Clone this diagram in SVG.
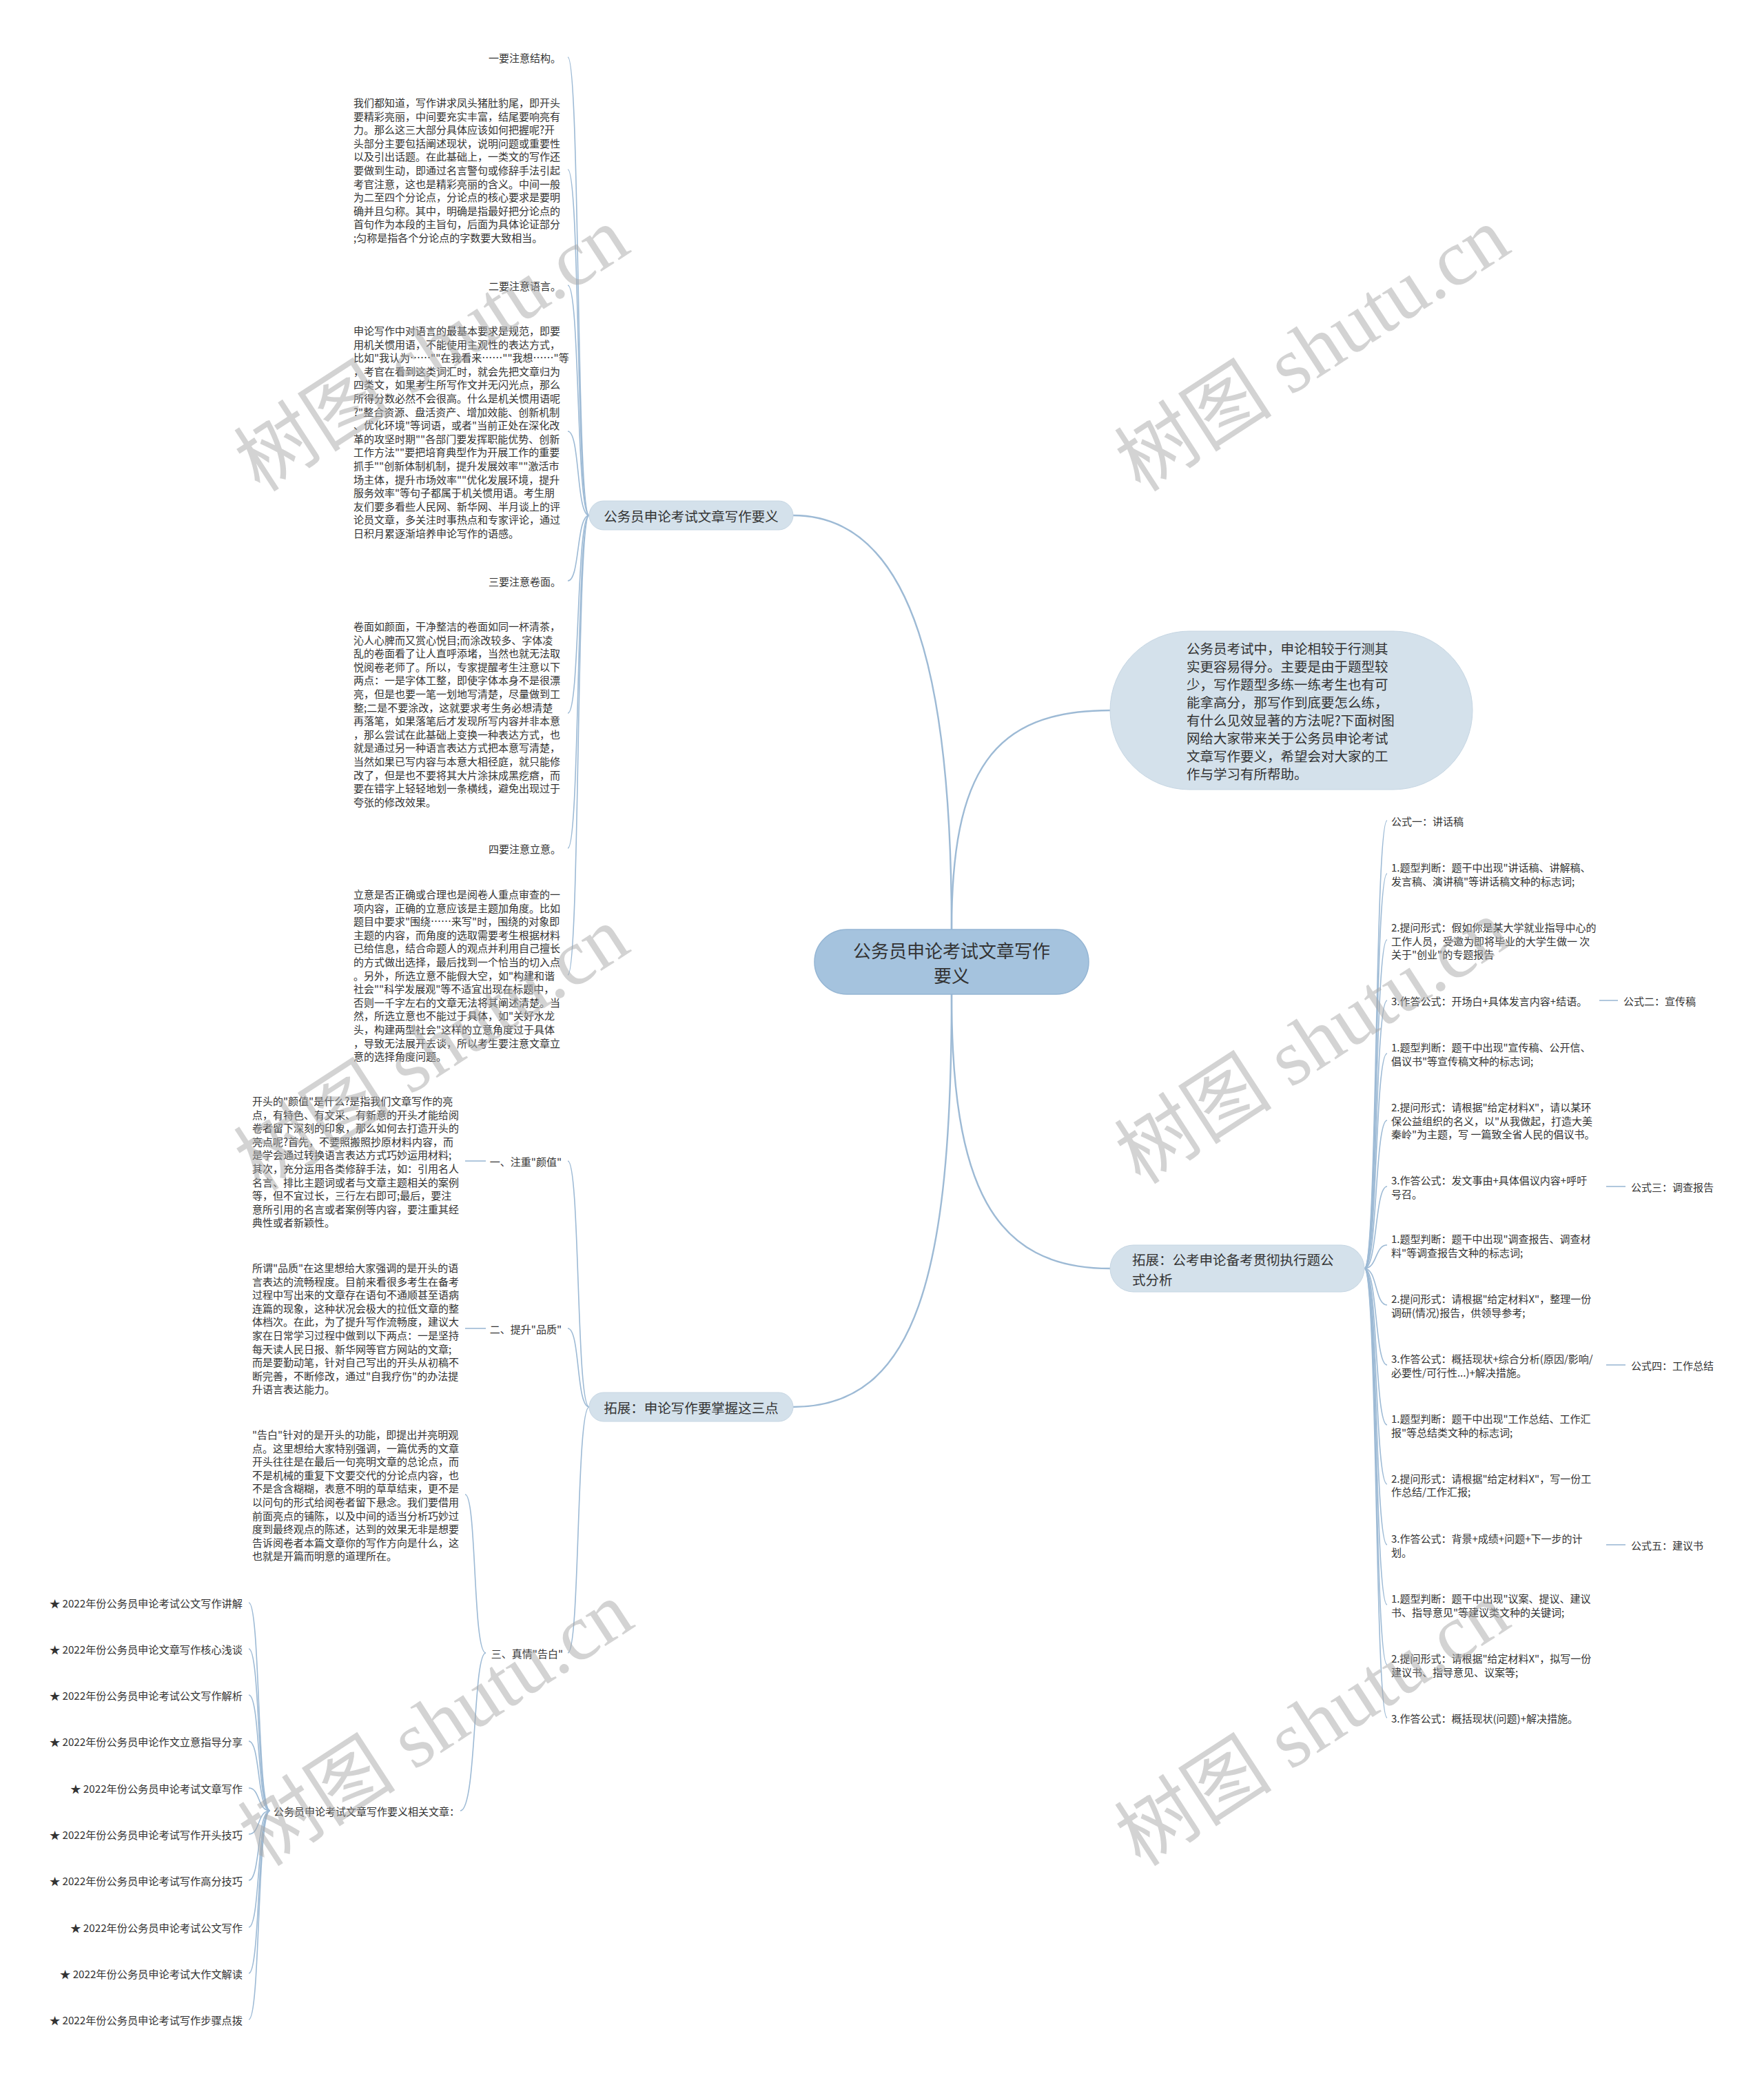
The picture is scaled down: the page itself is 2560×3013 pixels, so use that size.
<svg xmlns="http://www.w3.org/2000/svg" width="2560" height="3013" viewBox="0 0 2560 3013">
<style>
text{font-family:'Noto Sans CJK SC','Noto Sans',sans-serif;fill:#333;dominant-baseline:central}
.s15{font-size:15px}
.s16{font-size:15.2px}
.s20{font-size:19.5px}
.s26{font-size:26px}
.end{text-anchor:end}
.mid{text-anchor:middle}
.main{fill:#a5c3de;stroke:#94b5d3;stroke-width:1.5}
.sub{fill:#d4e1eb;stroke:#c6d6e3;stroke-width:1}
.edge{fill:none;stroke:#9dbad5;stroke-width:1.6}
.edge2{fill:none;stroke:#9dbad5;stroke-width:2.4}
.wm{font-family:'Liberation Serif','Noto Sans CJK SC',serif;font-size:115px;fill:#a8a8a8;opacity:0.5;dominant-baseline:auto}
</style>
<rect width="2560" height="3013" fill="#ffffff"/>
<g id="connectors">
<path class="edge2" d="M1381,1349 C1381,1000 1330,748 1151,748"/>
<path class="edge2" d="M1381,1349 C1381,1120 1440,1031 1611,1031"/>
<path class="edge2" d="M1381,1443 C1381,1850 1330,2042 1151,2042"/>
<path class="edge2" d="M1381,1443 C1381,1720 1440,1841 1611,1841"/>
<path class="edge" d="M855,748 C836,748 842,83 824,83"/>
<path class="edge" d="M855,748 C836,748 842,246 824,246"/>
<path class="edge" d="M855,748 C836,748 842,414 824,414"/>
<path class="edge" d="M855,748 C836,748 842,626 824,626"/>
<path class="edge" d="M855,748 C836,748 842,843 824,843"/>
<path class="edge" d="M855,748 C836,748 842,1035 824,1035"/>
<path class="edge" d="M855,748 C836,748 842,1231 824,1231"/>
<path class="edge" d="M855,748 C836,748 842,1415 824,1415"/>
<path class="edge" d="M855,2042 C836,2042 842,1685 824,1685"/>
<path class="edge" d="M855,2042 C836,2042 842,1928 824,1928"/>
<path class="edge" d="M855,2042 C836,2042 842,2399 824,2399"/>
<path class="edge" d="M705,1685 L675,1685"/>
<path class="edge" d="M705,1928 L675,1928"/>
<path class="edge" d="M705,2399 C686,2399 692,2169 675,2169"/>
<path class="edge" d="M705,2399 C686,2399 692,2628 668,2628"/>
<path class="edge" d="M392,2628 C373,2628 378,2326 361,2326"/>
<path class="edge" d="M392,2628 C373,2628 378,2393 361,2393"/>
<path class="edge" d="M392,2628 C373,2628 378,2460 361,2460"/>
<path class="edge" d="M392,2628 C373,2628 378,2527 361,2527"/>
<path class="edge" d="M392,2628 C373,2628 378,2595 361,2595"/>
<path class="edge" d="M392,2628 C373,2628 378,2662 361,2662"/>
<path class="edge" d="M392,2628 C373,2628 378,2729 361,2729"/>
<path class="edge" d="M392,2628 C373,2628 378,2797 361,2797"/>
<path class="edge" d="M392,2628 C373,2628 378,2864 361,2864"/>
<path class="edge" d="M392,2628 C373,2628 378,2931 361,2931"/>
<path class="edge" d="M1980,1841 C1999,1841 1995,1191 2013,1191"/>
<path class="edge" d="M1980,1841 C1999,1841 1995,1268 2013,1268"/>
<path class="edge" d="M1980,1841 C1999,1841 1995,1364 2013,1364"/>
<path class="edge" d="M1980,1841 C1999,1841 1995,1452 2013,1452"/>
<path class="edge" d="M1980,1841 C1999,1841 1995,1529 2013,1529"/>
<path class="edge" d="M1980,1841 C1999,1841 1995,1626 2013,1626"/>
<path class="edge" d="M1980,1841 C1999,1841 1995,1722 2013,1722"/>
<path class="edge" d="M1980,1841 C1999,1841 1995,1807 2013,1807"/>
<path class="edge" d="M1980,1841 C1999,1841 1995,1894 2013,1894"/>
<path class="edge" d="M1980,1841 C1999,1841 1995,1981 2013,1981"/>
<path class="edge" d="M1980,1841 C1999,1841 1995,2068 2013,2068"/>
<path class="edge" d="M1980,1841 C1999,1841 1995,2154 2013,2154"/>
<path class="edge" d="M1980,1841 C1999,1841 1995,2242 2013,2242"/>
<path class="edge" d="M1980,1841 C1999,1841 1995,2329 2013,2329"/>
<path class="edge" d="M1980,1841 C1999,1841 1995,2416 2013,2416"/>
<path class="edge" d="M1980,1841 C1999,1841 1995,2493 2013,2493"/>
<path class="edge" d="M2321,1452 L2348,1452"/>
<path class="edge" d="M2331,1722 L2359,1722"/>
<path class="edge" d="M2331,1981 L2359,1981"/>
<path class="edge" d="M2331,2242 L2359,2242"/>
</g>
<g id="central">
<rect class="main" x="1182" y="1349" width="398" height="94" rx="47"/>
<text class="s26 mid"><tspan x="1381" y="1378">公务员申论考试文章写作</tspan><tspan x="1381" y="1414">要义</tspan></text>
</g>
<g id="n-l1">
<rect class="sub" x="855" y="727" width="296" height="42" rx="21"/>
<text class="s20 mid" x="1003" y="748">公务员申论考试文章写作要义</text>
</g>
<g id="n-l1-t1"><text class="s15 end" x="814" y="83">一要注意结构。</text></g>
<g id="n-l1-p1"><text class="s15">
<tspan x="513" y="148">我们都知道，写作讲求凤头猪肚豹尾，即开头</tspan>
<tspan x="513" y="167.6">要精彩亮丽，中间要充实丰富，结尾要响亮有</tspan>
<tspan x="513" y="187.2">力。那么这三大部分具体应该如何把握呢?开</tspan>
<tspan x="513" y="206.8">头部分主要包括阐述现状，说明问题或重要性</tspan>
<tspan x="513" y="226.4">以及引出话题。在此基础上，一类文的写作还</tspan>
<tspan x="513" y="246">要做到生动，即通过名言警句或修辞手法引起</tspan>
<tspan x="513" y="265.6">考官注意，这也是精彩亮丽的含义。中间一般</tspan>
<tspan x="513" y="285.2">为二至四个分论点，分论点的核心要求是要明</tspan>
<tspan x="513" y="304.8">确并且匀称。其中，明确是指最好把分论点的</tspan>
<tspan x="513" y="324.4">首句作为本段的主旨句，后面为具体论证部分</tspan>
<tspan x="513" y="344">;匀称是指各个分论点的字数要大致相当。</tspan>
</text></g>
<g id="n-l1-t2"><text class="s15 end" x="814" y="414">二要注意语言。</text></g>
<g id="n-l1-p2"><text class="s15">
<tspan x="513" y="479">申论写作中对语言的最基本要求是规范，即要</tspan>
<tspan x="513" y="498.6">用机关惯用语，不能使用主观性的表达方式，</tspan>
<tspan x="513" y="518.2">比如"我认为……""在我看来……""我想……"等</tspan>
<tspan x="513" y="537.8">，考官在看到这类词汇时，就会先把文章归为</tspan>
<tspan x="513" y="557.4">四类文，如果考生所写作文并无闪光点，那么</tspan>
<tspan x="513" y="577">所得分数必然不会很高。什么是机关惯用语呢</tspan>
<tspan x="513" y="596.6">?"整合资源、盘活资产、增加效能、创新机制</tspan>
<tspan x="513" y="616.2">、优化环境"等词语，或者"当前正处在深化改</tspan>
<tspan x="513" y="635.8">革的攻坚时期""各部门要发挥职能优势、创新</tspan>
<tspan x="513" y="655.4">工作方法""要把培育典型作为开展工作的重要</tspan>
<tspan x="513" y="675">抓手""创新体制机制，提升发展效率""激活市</tspan>
<tspan x="513" y="694.6">场主体，提升市场效率""优化发展环境，提升</tspan>
<tspan x="513" y="714.2">服务效率"等句子都属于机关惯用语。考生朋</tspan>
<tspan x="513" y="733.8">友们要多看些人民网、新华网、半月谈上的评</tspan>
<tspan x="513" y="753.4">论员文章，多关注时事热点和专家评论，通过</tspan>
<tspan x="513" y="773">日积月累逐渐培养申论写作的语感。</tspan>
</text></g>
<g id="n-l1-t3"><text class="s15 end" x="814" y="843">三要注意卷面。</text></g>
<g id="n-l1-p3"><text class="s15">
<tspan x="513" y="908">卷面如颜面，干净整洁的卷面如同一杯清茶，</tspan>
<tspan x="513" y="927.6">沁人心脾而又赏心悦目;而涂改较多、字体凌</tspan>
<tspan x="513" y="947.2">乱的卷面看了让人直呼添堵，当然也就无法取</tspan>
<tspan x="513" y="966.8">悦阅卷老师了。所以，专家提醒考生注意以下</tspan>
<tspan x="513" y="986.4">两点：一是字体工整，即使字体本身不是很漂</tspan>
<tspan x="513" y="1006">亮，但是也要一笔一划地写清楚，尽量做到工</tspan>
<tspan x="513" y="1025.6">整;二是不要涂改，这就要求考生务必想清楚</tspan>
<tspan x="513" y="1045.2">再落笔，如果落笔后才发现所写内容并非本意</tspan>
<tspan x="513" y="1064.8">，那么尝试在此基础上变换一种表达方式，也</tspan>
<tspan x="513" y="1084.4">就是通过另一种语言表达方式把本意写清楚，</tspan>
<tspan x="513" y="1104">当然如果已写内容与本意大相径庭，就只能修</tspan>
<tspan x="513" y="1123.6">改了，但是也不要将其大片涂抹成黑疙瘩，而</tspan>
<tspan x="513" y="1143.2">要在错字上轻轻地划一条横线，避免出现过于</tspan>
<tspan x="513" y="1162.8">夸张的修改效果。</tspan>
</text></g>
<g id="n-l1-t4"><text class="s15 end" x="814" y="1231">四要注意立意。</text></g>
<g id="n-l1-p4"><text class="s15">
<tspan x="513" y="1297">立意是否正确或合理也是阅卷人重点审查的一</tspan>
<tspan x="513" y="1316.6">项内容，正确的立意应该是主题加角度。比如</tspan>
<tspan x="513" y="1336.2">题目中要求"围绕……来写"时，围绕的对象即</tspan>
<tspan x="513" y="1355.8">主题的内容，而角度的选取需要考生根据材料</tspan>
<tspan x="513" y="1375.4">已给信息，结合命题人的观点并利用自己擅长</tspan>
<tspan x="513" y="1395">的方式做出选择，最后找到一个恰当的切入点</tspan>
<tspan x="513" y="1414.6">。另外，所选立意不能假大空，如"构建和谐</tspan>
<tspan x="513" y="1434.2">社会""科学发展观"等不适宜出现在标题中，</tspan>
<tspan x="513" y="1453.8">否则一千字左右的文章无法将其阐述清楚。当</tspan>
<tspan x="513" y="1473.4">然，所选立意也不能过于具体，如"关好水龙</tspan>
<tspan x="513" y="1493">头，构建两型社会"这样的立意角度过于具体</tspan>
<tspan x="513" y="1512.6">，导致无法展开去谈，所以考生要注意文章立</tspan>
<tspan x="513" y="1532.2">意的选择角度问题。</tspan>
</text></g>
<g id="n-l2">
<rect class="sub" x="855" y="2021" width="296" height="42" rx="21"/>
<text class="s20 mid" x="1003" y="2042">拓展：申论写作要掌握这三点</text>
</g>
<g id="n-l2-t1"><text class="s15 end" x="815" y="1685">一、注重"颜值"</text></g>
<g id="n-l2-p1"><text class="s15">
<tspan x="366" y="1597">开头的"颜值"是什么?是指我们文章写作的亮</tspan>
<tspan x="366" y="1616.6">点，有特色、有文采、有新意的开头才能给阅</tspan>
<tspan x="366" y="1636.2">卷者留下深刻的印象，那么如何去打造开头的</tspan>
<tspan x="366" y="1655.8">亮点呢?首先，不要照搬照抄原材料内容，而</tspan>
<tspan x="366" y="1675.4">是学会通过转换语言表达方式巧妙运用材料;</tspan>
<tspan x="366" y="1695">其次，充分运用各类修辞手法，如：引用名人</tspan>
<tspan x="366" y="1714.6">名言、排比主题词或者与文章主题相关的案例</tspan>
<tspan x="366" y="1734.2">等，但不宜过长，三行左右即可;最后，要注</tspan>
<tspan x="366" y="1753.8">意所引用的名言或者案例等内容，要注重其经</tspan>
<tspan x="366" y="1773.4">典性或者新颖性。</tspan>
</text></g>
<g id="n-l2-t2"><text class="s15 end" x="815" y="1928">二、提升"品质"</text></g>
<g id="n-l2-p2"><text class="s15">
<tspan x="366" y="1839">所谓"品质"在这里想给大家强调的是开头的语</tspan>
<tspan x="366" y="1858.6">言表达的流畅程度。目前来看很多考生在备考</tspan>
<tspan x="366" y="1878.2">过程中写出来的文章存在语句不通顺甚至语病</tspan>
<tspan x="366" y="1897.8">连篇的现象，这种状况会极大的拉低文章的整</tspan>
<tspan x="366" y="1917.4">体档次。在此，为了提升写作流畅度，建议大</tspan>
<tspan x="366" y="1937">家在日常学习过程中做到以下两点：一是坚持</tspan>
<tspan x="366" y="1956.6">每天读人民日报、新华网等官方网站的文章;</tspan>
<tspan x="366" y="1976.2">而是要勤动笔，针对自己写出的开头从初稿不</tspan>
<tspan x="366" y="1995.8">断完善，不断修改，通过"自我疗伤"的办法提</tspan>
<tspan x="366" y="2015.4">升语言表达能力。</tspan>
</text></g>
<g id="n-l2-t3"><text class="s15 end" x="817" y="2399">三、真情"告白"</text></g>
<g id="n-l2-p3"><text class="s15">
<tspan x="366" y="2081">"告白"针对的是开头的功能，即提出并亮明观</tspan>
<tspan x="366" y="2100.6">点。这里想给大家特别强调，一篇优秀的文章</tspan>
<tspan x="366" y="2120.2">开头往往是在最后一句亮明文章的总论点，而</tspan>
<tspan x="366" y="2139.8">不是机械的重复下文要交代的分论点内容，也</tspan>
<tspan x="366" y="2159.4">不是含含糊糊，表意不明的草草结束，更不是</tspan>
<tspan x="366" y="2179">以问句的形式给阅卷者留下悬念。我们要借用</tspan>
<tspan x="366" y="2198.6">前面亮点的铺陈，以及中间的适当分析巧妙过</tspan>
<tspan x="366" y="2218.2">度到最终观点的陈述，达到的效果无非是想要</tspan>
<tspan x="366" y="2237.8">告诉阅卷者本篇文章你的写作方向是什么，这</tspan>
<tspan x="366" y="2257.4">也就是开篇而明意的道理所在。</tspan>
</text></g>
<g id="n-related"><text class="s15" x="397" y="2628">公务员申论考试文章写作要义相关文章：</text></g>
<g id="n-star1"><text class="s16 end" x="352" y="2326">★ 2022年份公务员申论考试公文写作讲解</text></g>
<g id="n-star2"><text class="s16 end" x="352" y="2393">★ 2022年份公务员申论文章写作核心浅谈</text></g>
<g id="n-star3"><text class="s16 end" x="352" y="2460">★ 2022年份公务员申论考试公文写作解析</text></g>
<g id="n-star4"><text class="s16 end" x="352" y="2527">★ 2022年份公务员申论作文立意指导分享</text></g>
<g id="n-star5"><text class="s16 end" x="352" y="2595">★ 2022年份公务员申论考试文章写作</text></g>
<g id="n-star6"><text class="s16 end" x="352" y="2662">★ 2022年份公务员申论考试写作开头技巧</text></g>
<g id="n-star7"><text class="s16 end" x="352" y="2729">★ 2022年份公务员申论考试写作高分技巧</text></g>
<g id="n-star8"><text class="s16 end" x="352" y="2797">★ 2022年份公务员申论考试公文写作</text></g>
<g id="n-star9"><text class="s16 end" x="352" y="2864">★ 2022年份公务员申论考试大作文解读</text></g>
<g id="n-star10"><text class="s16 end" x="352" y="2931">★ 2022年份公务员申论考试写作步骤点拨</text></g>
<g id="n-r1">
<rect class="sub" x="1611" y="916" width="526" height="230" rx="115"/>
<text class="s20">
<tspan x="1722" y="940">公务员考试中，申论相较于行测其</tspan>
<tspan x="1722" y="966">实更容易得分。主要是由于题型较</tspan>
<tspan x="1722" y="992">少，写作题型多练一练考生也有可</tspan>
<tspan x="1722" y="1018">能拿高分，那写作到底要怎么练，</tspan>
<tspan x="1722" y="1044">有什么见效显著的方法呢?下面树图</tspan>
<tspan x="1722" y="1070">网给大家带来关于公务员申论考试</tspan>
<tspan x="1722" y="1096">文章写作要义，希望会对大家的工</tspan>
<tspan x="1722" y="1122">作与学习有所帮助。</tspan>
</text>
</g>
<g id="n-r2">
<rect class="sub" x="1611" y="1807" width="369" height="68" rx="34"/>
<text class="s20"><tspan x="1643" y="1827">拓展：公考申论备考贯彻执行题公</tspan><tspan x="1643" y="1856">式分析</tspan></text>
</g>
<g id="n-a0"><text class="s15" x="2019" y="1191">公式一：讲话稿</text></g>
<g id="n-a1"><text class="s15"><tspan x="2019" y="1258">1.题型判断：题干中出现"讲话稿、讲解稿、</tspan><tspan x="2019" y="1278">发言稿、演讲稿"等讲话稿文种的标志词;</tspan></text></g>
<g id="n-a2"><text class="s15"><tspan x="2019" y="1345">2.提问形式：假如你是某大学就业指导中心的</tspan><tspan x="2019" y="1364.5">工作人员，受邀为即将毕业的大学生做一 次</tspan><tspan x="2019" y="1384">关于"创业"的专题报告</tspan></text></g>
<g id="n-a3"><text class="s15" x="2019" y="1452">3.作答公式：开场白+具体发言内容+结语。</text></g>
<g id="n-f2"><text class="s15" x="2356" y="1452">公式二：宣传稿</text></g>
<g id="n-b1"><text class="s15"><tspan x="2019" y="1519">1.题型判断：题干中出现"宣传稿、公开信、</tspan><tspan x="2019" y="1539">倡议书"等宣传稿文种的标志词;</tspan></text></g>
<g id="n-b2"><text class="s15"><tspan x="2019" y="1606">2.提问形式：请根据"给定材料X"，请以某环</tspan><tspan x="2019" y="1625.5">保公益组织的名义，以"从我做起，打造大美</tspan><tspan x="2019" y="1645">秦岭"为主题，写 一篇致全省人民的倡议书。</tspan></text></g>
<g id="n-b3"><text class="s15"><tspan x="2019" y="1712">3.作答公式：发文事由+具体倡议内容+呼吁</tspan><tspan x="2019" y="1732">号召。</tspan></text></g>
<g id="n-f3"><text class="s15" x="2367" y="1722">公式三：调查报告</text></g>
<g id="n-c1"><text class="s15"><tspan x="2019" y="1797">1.题型判断：题干中出现"调查报告、调查材</tspan><tspan x="2019" y="1817">料"等调查报告文种的标志词;</tspan></text></g>
<g id="n-c2"><text class="s15"><tspan x="2019" y="1884">2.提问形式：请根据"给定材料X"，整理一份</tspan><tspan x="2019" y="1904">调研(情况)报告，供领导参考;</tspan></text></g>
<g id="n-c3"><text class="s15"><tspan x="2019" y="1971">3.作答公式：概括现状+综合分析(原因/影响/</tspan><tspan x="2019" y="1991">必要性/可行性...)+解决措施。</tspan></text></g>
<g id="n-f4"><text class="s15" x="2367" y="1981">公式四：工作总结</text></g>
<g id="n-d1"><text class="s15"><tspan x="2019" y="2058">1.题型判断：题干中出现"工作总结、工作汇</tspan><tspan x="2019" y="2078">报"等总结类文种的标志词;</tspan></text></g>
<g id="n-d2"><text class="s15"><tspan x="2019" y="2145">2.提问形式：请根据"给定材料X"，写一份工</tspan><tspan x="2019" y="2164">作总结/工作汇报;</tspan></text></g>
<g id="n-d3"><text class="s15"><tspan x="2019" y="2232">3.作答公式：背景+成绩+问题+下一步的计</tspan><tspan x="2019" y="2252">划。</tspan></text></g>
<g id="n-f5"><text class="s15" x="2367" y="2242">公式五：建议书</text></g>
<g id="n-e1"><text class="s15"><tspan x="2019" y="2319">1.题型判断：题干中出现"议案、提议、建议</tspan><tspan x="2019" y="2339">书、指导意见"等建议类文种的关键词;</tspan></text></g>
<g id="n-e2"><text class="s15"><tspan x="2019" y="2406">2.提问形式：请根据"给定材料X"，拟写一份</tspan><tspan x="2019" y="2426">建议书、指导意见、议案等;</tspan></text></g>
<g id="n-e3"><text class="s15" x="2019" y="2493">3.作答公式：概括现状(问题)+解决措施。</text></g>
<g id="watermarks">
<text class="wm mid" transform="translate(648,540) rotate(-33)">树图 shutu.cn</text>
<text class="wm mid" transform="translate(1926,540) rotate(-33)">树图 shutu.cn</text>
<text class="wm mid" transform="translate(648,1555) rotate(-33)">树图 shutu.cn</text>
<text class="wm mid" transform="translate(1926,1545) rotate(-33)">树图 shutu.cn</text>
<text class="wm mid" transform="translate(654,2535) rotate(-33)">树图 shutu.cn</text>
<text class="wm mid" transform="translate(1926,2535) rotate(-33)">树图 shutu.cn</text>
</g>
</svg>
